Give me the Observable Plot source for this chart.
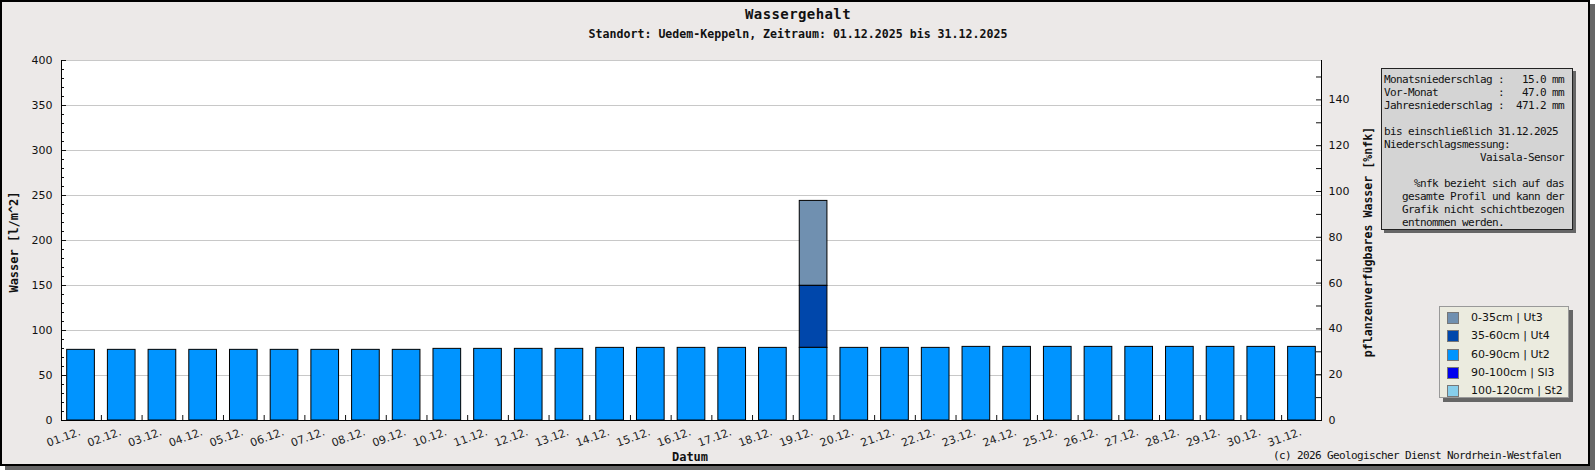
<!DOCTYPE html>
<html><head><meta charset="utf-8">
<script src="https://cdn.jsdelivr.net/npm/d3@7"></script>
<script src="https://cdn.jsdelivr.net/npm/@observablehq/plot@0.6"></script>
<style>
body{margin:0;width:1595px;height:470px;background:#fff;position:relative;overflow:hidden;font-family:"DejaVu Sans",sans-serif;}
#frame{position:absolute;left:0;top:0;width:1586px;height:462px;border:2px solid #000;background:#ece9e8;box-shadow:5px 4px 0 #666;}
#chart{position:absolute;left:0;top:0;}
.abs{position:absolute;white-space:pre;color:#111;}
.c{transform:translate(-50%,-50%);}
.mono{font-family:"DejaVu Sans Mono",monospace;}
.bold{font-weight:bold;}
#info{position:absolute;left:1381px;top:68px;width:188px;height:156px;border:1px solid #222;background:#d4d4d4;box-shadow:3px 3px 0 #666;padding:4px 0 0 2px;font-family:"DejaVu Sans Mono",monospace;font-size:11px;letter-spacing:-0.62px;line-height:13px;white-space:pre;color:#111;}
#legend{position:absolute;left:1439px;top:306px;width:128px;height:90px;border:1px solid #999;background:#ebebdf;box-shadow:4px 4px 0 #666;}
.row{position:absolute;left:7px;height:12px;font-size:11px;line-height:12px;color:#111;white-space:pre;}
.sw{display:inline-block;width:10px;height:10px;border:1px solid #777;vertical-align:top;margin-right:12px;}
</style></head>
<body>
<div id="frame"></div>
<div id="chart"></div>
<script>
// ---- data ----
const days = ["01.12.","02.12.","03.12.","04.12.","05.12.","06.12.","07.12.","08.12.","09.12.","10.12.","11.12.","12.12.","13.12.","14.12.","15.12.","16.12.","17.12.","18.12.","19.12.","20.12.","21.12.","22.12.","23.12.","24.12.","25.12.","26.12.","27.12.","28.12.","29.12.","30.12.","31.12."];
const layers = ["0-35cm | Ut3","35-60cm | Ut4","60-90cm | Ut2","90-100cm | Sl3","100-120cm | St2"];
const layerColors = ["#7090b0","#0047ab","#0094ff","#0000ee","#87ceeb"];
const v0_35   = [0,0,0,0,0,0,0,0,0,0,0,0,0,0,0,0,0,0,94.4,0,0,0,0,0,0,0,0,0,0,0,0];
const v35_60  = [0,0,0,0,0,0,0,0,0,0,0,0,0,0,0,0,0,0,68.9,0,0,0,0,0,0,0,0,0,0,0,0];
const v60_90  = [78.5,78.5,78.5,78.5,78.5,78.5,78.5,78.5,78.5,79.6,79.6,79.6,79.6,80.7,80.7,80.7,80.7,80.7,80.7,80.7,80.7,80.7,81.8,81.8,81.8,81.8,81.8,81.8,81.8,81.8,81.8];
const v90_100 = [0,0,0,0,0,0,0,0,0,0,0,0,0,0,0,0,0,0,0,0,0,0,0,0,0,0,0,0,0,0,0];
const v100_120= [0,0,0,0,0,0,0,0,0,0,0,0,0,0,0,0,0,0,0,0,0,0,0,0,0,0,0,0,0,0,0];
const leftMajor = [0,50,100,150,200,250,300,350,400];
const leftMinor = [10,20,30,40,60,70,80,90,110,120,130,140,160,170,180,190,210,220,230,240,260,270,280,290,310,320,330,340,360,370,380,390];
const rightTicks = [0,20,40,60,80,100,120,140];
const rightMinor = [10,30,50,70,90,110,130,150];
const nfkMax = 157.2; // %nfk at top of left axis (400)
const title = "Wassergehalt";
const subtitle = "Standort: Uedem-Keppeln, Zeitraum: 01.12.2025 bis 31.12.2025";
const infoLines = [
"Monatsniederschlag :   15.0 mm",
"Vor-Monat          :   47.0 mm",
"Jahresniederschlag :  471.2 mm",
"",
"bis einschließlich 31.12.2025",
"Niederschlagsmessung:",
"                Vaisala-Sensor",
"",
"     %nfk bezieht sich auf das",
"   gesamte Profil und kann der",
"   Grafik nicht schichtbezogen",
"   entnommen werden."];
const copyright = "(c) 2026 Geologischer Dienst Nordrhein-Westfalen";

// ---- table ----
const series = [v0_35, v35_60, v60_90, v90_100, v100_120];
const table = [];
days.forEach((d, i) => layers.forEach((l, j) => { if (series[j][i] > 0) table.push({day: d, layer: l, value: series[j][i]}); }));
const stackOrder = ["60-90cm | Ut2","35-60cm | Ut4","0-35cm | Ut3","90-100cm | Sl3","100-120cm | St2"];

const W = 1595, H = 470, mL = 61, mR = 274, mT = 60, mB = 50;
const pIn = 0.32, pOut = 0.14;
const step = (W - mL - mR) / (days.length - pIn + 2 * pOut);
const toLeft = v => v * 400 / nfkMax;

const chart = Plot.plot({
  width: W, height: H,
  marginLeft: mL, marginRight: mR, marginTop: mT, marginBottom: mB,
  style: {background: "transparent", fontFamily: "DejaVu Sans", fontSize: "11px", color: "#111"},
  x: {type: "band", domain: days, paddingInner: pIn, paddingOuter: pOut, round: false, axis: null},
  y: {domain: [0, 400], axis: null},
  color: {domain: layers, range: layerColors},
  marks: [
    Plot.frame({fill: "white", stroke: null}),
    Plot.gridY(leftMajor, {stroke: "#c8c8c8", strokeOpacity: 1}),
    Plot.barY(table, Plot.stackY({x: "day", y: "value", fill: "layer", order: stackOrder, stroke: "#000", strokeWidth: 1})),
    Plot.axisY(leftMinor, {tickSize: -3, tickFormat: () => "", label: null}),
    Plot.axisY(leftMajor, {tickSize: -5, tickFormat: () => "", label: null}),
    Plot.axisY(leftMajor, {tickSize: 0, tickPadding: 9, label: null}),
    Plot.axisY(rightMinor.map(toLeft), {anchor: "right", tickSize: -6, tickFormat: () => "", label: null}),
    Plot.axisY(rightTicks.map(toLeft), {anchor: "right", tickSize: -6, tickFormat: () => "", label: null}),
    Plot.axisY(rightTicks.map(toLeft), {anchor: "right", tickSize: 0, tickPadding: 7, tickFormat: d => Math.round(d * nfkMax / 400), label: null}),
    Plot.axisX(days.slice(0, -1), {tickSize: -5, tickFormat: () => "", dx: step / 2, label: null}),
    Plot.axisX(days, {tickSize: 0, tickRotate: -20, textAnchor: "end", lineAnchor: "middle", tickPadding: 11, dx: -1, label: null, fill: "#222"}),
    Plot.frame({anchor: "left", stroke: "#000"}),
    Plot.frame({anchor: "right", stroke: "#000"}),
    Plot.frame({anchor: "bottom", stroke: "#000"})
  ]
});
document.getElementById("chart").appendChild(chart);

// ---- text ----
function addText(txt, x, y, cls, style) {
  const el = document.createElement("div");
  el.className = "abs " + cls;
  el.textContent = txt;
  el.style.left = x + "px"; el.style.top = y + "px";
  Object.assign(el.style, style || {});
  document.body.appendChild(el);
  return el;
}
addText(title, 798, 14, "c mono bold", {fontSize: "14px", letterSpacing: "0.4px"});
addText(subtitle, 798, 33.5, "c mono bold", {fontSize: "11.6px"});
addText("Wasser [l/m^2]", 13.5, 242, "mono bold", {fontSize: "12px", transform: "translate(-50%,-50%) rotate(-90deg)"});
addText("pflanzenverfügbares Wasser [%nfk]", 1368, 242, "mono bold", {fontSize: "11.6px", transform: "translate(-50%,-50%) rotate(-90deg)"});
addText("Datum", 690, 456.5, "c mono bold", {fontSize: "12px"});
addText(copyright, 1273, 448.5, "mono", {fontSize: "11px", letterSpacing: "-0.62px", lineHeight: "13px"});

const info = document.createElement("div");
info.id = "info";
info.textContent = infoLines.join("\n");
document.body.appendChild(info);

const legend = document.createElement("div");
legend.id = "legend";
document.body.appendChild(legend);
layers.forEach((l, i) => {
  const r = document.createElement("div");
  r.className = "row";
  r.style.top = (5 + i * 18.3) + "px";
  const sw = document.createElement("span");
  sw.className = "sw";
  sw.style.background = layerColors[i];
  r.appendChild(sw);
  r.appendChild(document.createTextNode(l));
  legend.appendChild(r);
});
</script>
</body></html>
